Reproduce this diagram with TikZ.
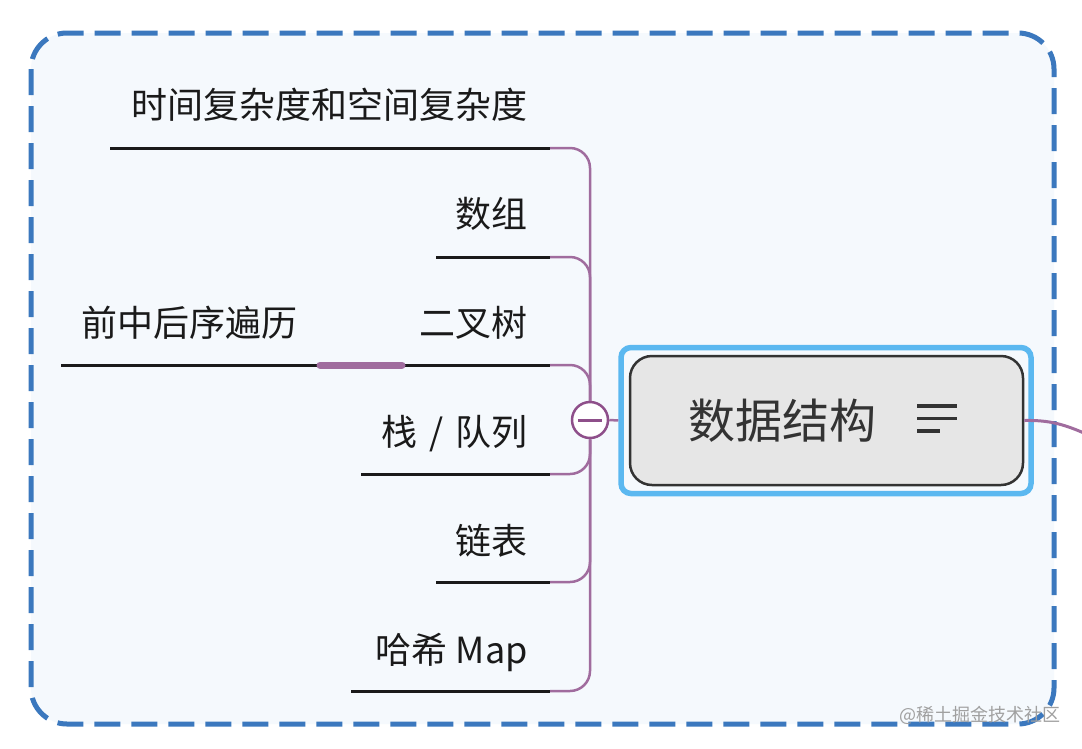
\documentclass[tikz,border=0pt]{standalone}
\usepackage{fontspec}
\newfontfamily\cjk{Noto Sans CJK SC}
\definecolor{dashblue}{HTML}{3B78BE}
\definecolor{bgfill}{HTML}{F5F9FD}
\definecolor{selblue}{HTML}{5BB8F0}
\definecolor{nodegray}{HTML}{E6E6E6}
\definecolor{darkline}{HTML}{333333}
\definecolor{branchpurple}{HTML}{A06C9E}
\definecolor{circlepurple}{HTML}{8E4F8A}
\definecolor{textblack}{HTML}{1A1A1A}
\definecolor{wmgray}{HTML}{A0A0A0}
\tikzset{
  label/.style={font=\cjk\fontsize{36}{40}\selectfont, text=textblack, inner sep=0pt, anchor=base east},
  underline/.style={draw=textblack, line width=3pt},
  branch/.style={draw=branchpurple, line width=2.5pt, rounded corners=20pt},
}
\begin{document}
\begin{tikzpicture}[x=1pt,y=-1pt]
\useasboundingbox[fill=white] (0,0) rectangle (1082,748);
% group frame
\draw[dashblue, fill=bgfill, line width=5pt, dash pattern=on 26pt off 11pt, rounded corners=36pt] (31,33) rectangle (1054,724);
% watermark
\node[font=\cjk\fontsize{18}{20}\selectfont, text=wmgray, anchor=east, inner sep=0pt] (wm) at (1061,715) {@稀土掘金技术社区};

% right connector
\coordinate (out) at (1095,438);
% central topic
\node[draw=selblue, line width=5.5pt, rounded corners=10pt, minimum width=410pt, minimum height=146pt, inner sep=0pt] (sel) at (826,420.5) {};
\node[draw=darkline, fill=nodegray, line width=2.5pt, rounded corners=22pt, minimum width=393pt, minimum height=129pt, inner sep=0pt] (topic) at (826.5,420.5) {};
\node[font=\cjk\fontsize{47}{52}\selectfont, text=darkline, anchor=base west, inner sep=0pt] (tt) at (688,438) {数据结构};
\draw[darkline, line width=3.5pt] (917,406) -- (957,406) (917,418.5) -- (957,418.5) (917,431) -- (940,431);
\draw[branchpurple, line width=3pt] (topic.east) .. controls (1050,420) and (1065,424) .. (out);

% collapse circle
\node[circle, draw=circlepurple, fill=white, line width=2.5pt, minimum size=36pt, inner sep=0pt] (c) at (590,420) {};
\draw[circlepurple, line width=3pt] (578,420) -- (602,420);
\draw[branchpurple, line width=2.5pt] (c.east) -- (sel.west);

% branch ends
\coordinate (e1) at (550,148);
\coordinate (e2) at (550,257);
\coordinate (e3) at (550,365);
\coordinate (e4) at (550,474);
\coordinate (e5) at (550,582);
\coordinate (e6) at (550,691);

\draw[branch] (c.north) |- (e1);
\draw[branch] (c.north) |- (e2);
\draw[branch] (c.north) |- (e3);
\draw[branch] (c.south) |- (e4);
\draw[branch] (c.south) |- (e5);
\draw[branch] (c.south) |- (e6);

% labels and underlines
\node[label] (t1) at (528,118) {时间复杂度和空间复杂度};
\draw[underline] (110,148) -- (e1);
\node[label] (t2) at (528,227) {数组};
\draw[underline] (436,257) -- (e2);
\node[label] (t3) at (528,336) {二叉树};
\draw[underline] (400,365) -- (e3);
\node[label] (t4) at (528,445) {栈\kern4pt{} / {}\kern4pt队列};
\draw[underline] (361,474) -- (e4);
\node[label] (t5) at (528,554) {链表};
\draw[underline] (436,582) -- (e5);
\node[label] (t6) at (528,663) {哈希 Map};
\draw[underline] (351,691) -- (e6);

% sub branch
\coordinate (s1) at (320,365);
\coordinate (s2) at (402,365);
\node[label] (t7) at (298,336) {前中后序遍历};
\draw[underline] (61,365) -- (s1);
\draw[branchpurple, line width=7pt, line cap=round] (s1) -- (s2);
\end{tikzpicture}
\end{document}
